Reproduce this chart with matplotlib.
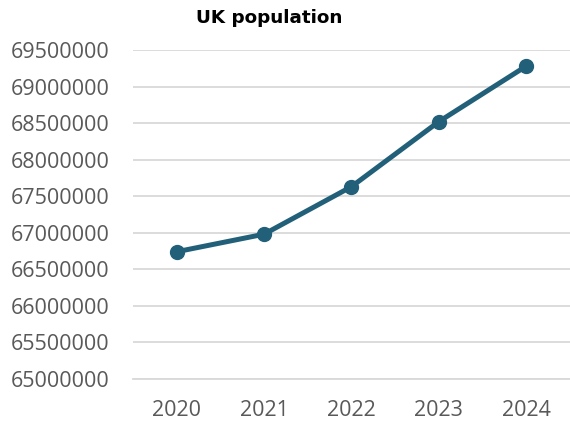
import matplotlib.pyplot as plt
from matplotlib.ticker import MultipleLocator, FuncFormatter

plt.rcParams['font.family'] = ['Open Sans', 'DejaVu Sans']

years = ['2020', '2021', '2022', '2023', '2024']
population = [66740000, 66980000, 67630000, 68520000, 69280000]

line_color = '#22607A'

fig = plt.figure(figsize=(5.7, 4.21), dpi=100)
ax = fig.add_axes([0.233, 0.0998, 0.767, 0.7815])

ax.plot(range(len(years)), population, color=line_color, linewidth=3.6,
        marker='o', markersize=10, solid_capstyle='round')

ax.set_xlim(-0.5, len(years) - 0.5)
ax.set_ylim(65000000, 69500000)
ax.yaxis.set_major_locator(MultipleLocator(500000))
ax.yaxis.set_major_formatter(FuncFormatter(lambda v, p: f'{int(round(v))}'))
ax.set_xticks(range(len(years)))
ax.set_xticklabels(years)

ax.grid(axis='y', color='#d9d9d9', linewidth=1.3)
ax.set_axisbelow(True)
for s in ['top', 'right', 'left']:
    ax.spines[s].set_visible(False)
ax.spines['bottom'].set_color('#d9d9d9')
ax.spines['bottom'].set_linewidth(1.3)
ax.tick_params(length=0, labelsize=15.5, colors='#595959')
ax.tick_params(axis='y', pad=17)
ax.tick_params(axis='x', pad=15)

fig.text(0.472, 0.957, 'UK population', ha='center', va='center',
         fontsize=13.2, fontweight='bold', color='black', family=['DejaVu Sans'])

fig.savefig('out.png', dpi=100)
